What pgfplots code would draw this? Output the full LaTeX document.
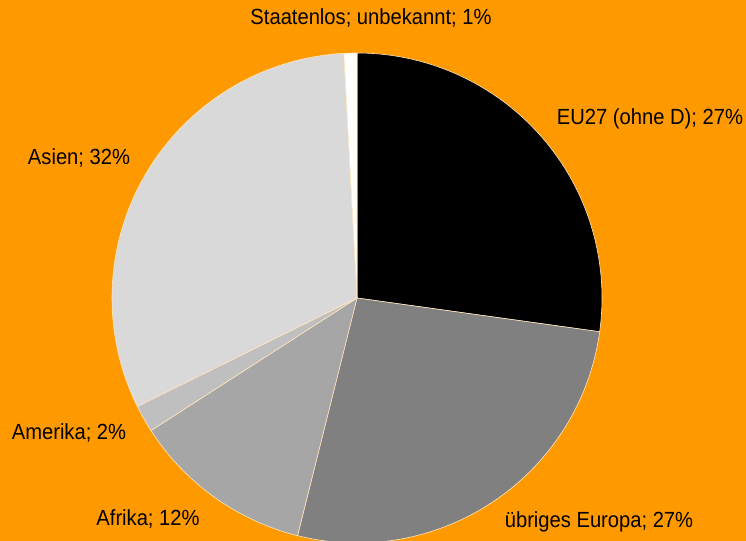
\documentclass[border=0pt]{standalone}
\usepackage{fontspec}
\setmainfont{Liberation Sans}[FakeStretch=0.92]
\usepackage{pgfplots}
\usepackage{pgfplotstable}
\pgfplotsset{compat=1.18}
\definecolor{bgorange}{HTML}{FF9900}
\definecolor{pie0}{HTML}{000000}
\definecolor{pie1}{HTML}{808080}
\definecolor{pie2}{HTML}{A6A6A6}
\definecolor{pie3}{HTML}{BFBFBF}
\definecolor{pie4}{HTML}{D9D9D9}
\definecolor{pie5}{HTML}{FFFFFF}
\pgfplotstableread{
idx value
0 27.2
1 26.7
2 12.0
3 1.8
4 31.45
5 0.85
}\piedata
\begin{document}
\begin{tikzpicture}
\begin{axis}[
  width=746bp, height=541bp, scale only axis,
  xmin=0, xmax=746, ymin=0, ymax=541,
  hide axis, clip=true,
]
\fill[bgorange] (rel axis cs:0,0) rectangle (rel axis cs:1,1);
\pgfplotsextra{
  \gdef\cum{90}
  \foreach \i in {0,...,5}{
    \pgfplotstablegetelem{\i}{value}\of\piedata
    \pgfmathsetmacro\pstart{\cum}
    \pgfmathsetmacro\pstop{\cum-3.6*\pgfplotsretval}
    \path[fill=pie\i, draw=white!75!bgorange, line width=0.6pt]
      (axis cs:357,243) -- ++(\pstart:245bp)
      arc[start angle=\pstart, end angle=\pstop, radius=245bp] -- cycle;
    \xdef\cum{\pstop}
  }
}
\tikzset{lbl/.style={font=\fontsize{22}{26}\selectfont, text=black, inner sep=0pt}}
\node[lbl] at (axis cs:371,523) {Staatenlos; unbekannt; 1\%};
\node[lbl] at (axis cs:650,422) {EU27 (ohne D); 27\%};
\node[lbl] at (axis cs:79,383) {Asien; 32\%};
\node[lbl] at (axis cs:69,108) {Amerika; 2\%};
\node[lbl] at (axis cs:148,22) {Afrika; 12\%};
\node[lbl] at (axis cs:599,19) {übriges Europa; 27\%};
\end{axis}
\end{tikzpicture}
\end{document}
